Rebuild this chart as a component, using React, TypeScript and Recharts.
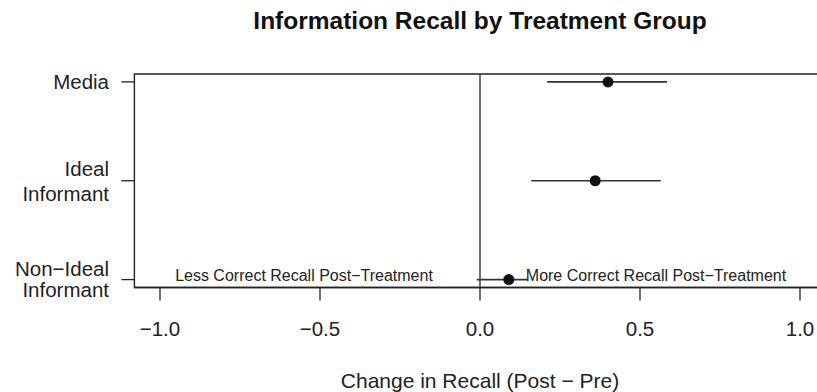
import React from 'react';
import {
  ScatterChart,
  Scatter,
  XAxis,
  YAxis,
  ErrorBar,
  ReferenceLine,
  ReferenceArea,
} from 'recharts';

// treatment groups, top to bottom
const groups = ['Media', 'Ideal\nInformant', 'Non\u2212Ideal\nInformant'];
const groupPos = [3, 2, 1];
const estimates = [0.4, 0.36, 0.09];
const lower = [0.21, 0.16, -0.01];
const upper = [0.585, 0.565, 0.15];

const xTicks = [-1, -0.5, 0, 0.5, 1];
const yTicks = [1, 2, 3];

const annotations = [
  { x: -0.55, y: 1.044, text: 'Less Correct Recall Post\u2212Treatment' },
  { x: 0.55, y: 1.044, text: 'More Correct Recall Post\u2212Treatment' },
];

const FONT = '"Liberation Sans", Arial, Helvetica, sans-serif';
const INK = '#222';

const points = groups.map((g, i) => ({
  name: g,
  x: estimates[i],
  y: groupPos[i],
  err: [estimates[i] - lower[i], upper[i] - estimates[i]],
}));

const fmtX = (v: number) => {
  const s = Math.abs(v).toFixed(1);
  return v < 0 ? '\u2212' + s : s;
};

const XTick = ({ x, y, payload }: any) => (
  <text x={x} y={y} textAnchor="middle" dominantBaseline="central" fontSize={20.5} fill={INK} fontFamily={FONT}>
    {fmtX(payload.value)}
  </text>
);

// line gap for two-line labels
const lineGap: Record<number, number> = { 2: 24.5, 1: 21 };
const lineShift: Record<number, number> = { 2: 0, 1: -0.5 };

const YTick = ({ x, y, payload }: any) => {
  const idx = groupPos.indexOf(payload.value);
  const lines = idx >= 0 ? groups[idx].split('\n') : [];
  const gap = lineGap[payload.value] ?? 0;
  const start = -((lines.length - 1) * gap) / 2 + (lineShift[payload.value] ?? 0);
  return (
    <text x={x} y={y} textAnchor="end" fontSize={20.5} fill={INK} fontFamily={FONT}>
      {lines.map((l, i) => (
        <tspan key={i} x={x} y={y + start + i * gap} dominantBaseline="central">
          {l}
        </tspan>
      ))}
    </text>
  );
};

const Dot = ({ cx, cy }: any) => <circle cx={cx} cy={cy} r={5.5} fill="#111" />;

const NoteShape = ({ cx, cy, payload }: any) => (
  <text x={cx} y={cy} textAnchor="middle" dominantBaseline="central" fontSize={16} fill={INK} fontFamily={FONT}>
    {payload.text}
  </text>
);

export default function App() {
  return (
    <div style={{ position: 'absolute', left: 0, top: 0, width: 817, height: 392, overflow: 'hidden', background: '#fff' }}>
      <ScatterChart width={840} height={392} margin={{ top: 74, right: 14.4, left: 0, bottom: 0 }}>
        <XAxis
          type="number"
          dataKey="x"
          domain={[-1.08, 1.08]}
          ticks={xTicks}
          allowDataOverflow
          height={104.5}
          tickSize={13}
          tickMargin={27.5}
          tick={<XTick />}
          axisLine={{ stroke: INK, strokeWidth: 1.3 }}
          tickLine={{ stroke: INK, strokeWidth: 1.3 }}
        />
        <YAxis
          type="number"
          dataKey="y"
          domain={[0.92, 3.08]}
          ticks={yTicks}
          allowDataOverflow
          width={134.4}
          tickSize={13}
          tickMargin={12.4}
          tick={<YTick />}
          axisLine={false}
          tickLine={{ stroke: INK, strokeWidth: 1.3 }}
        />
        <ReferenceArea x1={-1.08} x2={1.08} y1={0.92} y2={3.08} fill="none" fillOpacity={0} stroke={INK} strokeWidth={1.4} />
        <ReferenceLine x={0} stroke={INK} strokeWidth={1.3} />
        <Scatter data={points} shape={<Dot />} isAnimationActive={false}>
          <ErrorBar dataKey="err" direction="x" width={0} stroke="#333" strokeWidth={1.6} />
        </Scatter>
        <Scatter data={annotations} shape={<NoteShape />} isAnimationActive={false} />
      </ScatterChart>
      <svg width={817} height={392} style={{ position: 'absolute', left: 0, top: 0, pointerEvents: 'none' }}>
        <text x={480} y={20.5} textAnchor="middle" dominantBaseline="central" fontSize={24.5} fontWeight="bold" fill="#111" fontFamily={FONT}>
          Information Recall by Treatment Group
        </text>
        <text x={480} y={380} textAnchor="middle" dominantBaseline="central" fontSize={21} fill={INK} fontFamily={FONT}>
          Change in Recall (Post {'\u2212'} Pre)
        </text>
      </svg>
    </div>
  );
}
